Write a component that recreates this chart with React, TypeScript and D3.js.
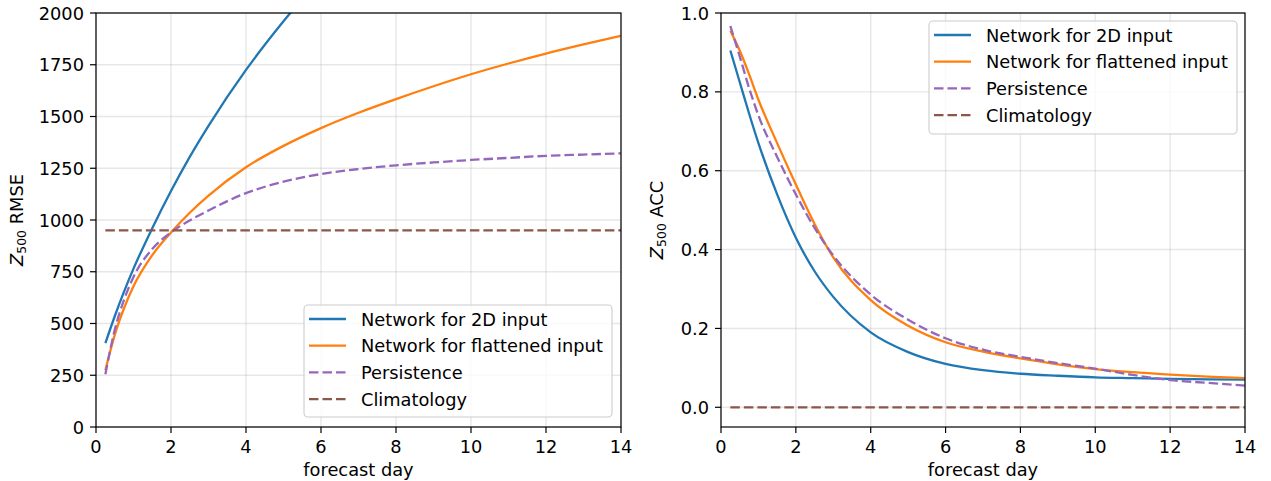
import React from 'react';
import * as d3 from 'd3';

// forecast lead times (days)
const days = [0.25, 0.5, 0.75, 1, 1.5, 2, 2.5, 3, 4, 5, 6, 7, 8, 9, 10, 11, 12, 13, 14];

// Z500 RMSE
const rmse2d = [405, 535, 655, 765, 960, 1140, 1305, 1455, 1725, 1960, 2170, 2350, 2510, 2650, 2780, 2890, 2990, 3080, 3160];
const rmseFlat = [274, 445, 575, 680, 830, 940, 1035, 1118, 1255, 1358, 1444, 1518, 1584, 1646, 1704, 1756, 1804, 1848, 1890];
const rmsePersist = [255, 470, 615, 725, 860, 940, 998, 1046, 1130, 1185, 1222, 1246, 1264, 1278, 1290, 1300, 1310, 1316, 1322];
const rmseClim = [950, 950, 950, 950, 950, 950, 950, 950, 950, 950, 950, 950, 950, 950, 950, 950, 950, 950, 950];

// Z500 ACC
const acc2d = [0.905, 0.825, 0.745, 0.67, 0.54, 0.43, 0.345, 0.28, 0.19, 0.14, 0.11, 0.094, 0.085, 0.08, 0.076, 0.074, 0.072, 0.071, 0.07];
const accFlat = [0.955, 0.905, 0.845, 0.78, 0.67, 0.565, 0.465, 0.38, 0.272, 0.207, 0.165, 0.141, 0.124, 0.109, 0.097, 0.089, 0.083, 0.078, 0.074];
const accPersist = [0.967, 0.89, 0.81, 0.74, 0.635, 0.54, 0.455, 0.385, 0.286, 0.222, 0.175, 0.146, 0.128, 0.112, 0.098, 0.082, 0.069, 0.062, 0.055];
const accClim = [0, 0, 0, 0, 0, 0, 0, 0, 0, 0, 0, 0, 0, 0, 0, 0, 0, 0, 0];

const xTicks = [0, 2, 4, 6, 8, 10, 12, 14];
const rmseTicks = [0, 250, 500, 750, 1000, 1250, 1500, 1750, 2000];
const accTicks = [0, 0.2, 0.4, 0.6, 0.8, 1.0];

const seriesNames = ['Network for 2D input', 'Network for flattened input', 'Persistence', 'Climatology'];
const colors = ['#1f77b4', '#ff7f0e', '#9467bd', '#8c564b'];
const dashes = [null, null, '9.5,4', '9.5,4'];

const FONT = 'DejaVu Sans';
const FS = 17.8;

const Panel = ({ id, left, right, top, bottom, yDomain, yTicks, yFmt, series, yLabel, legend }) => {
  const x = d3.scaleLinear().domain([0, 14]).range([left, right]);
  const y = d3.scaleLinear().domain(yDomain).range([bottom, top]);
  const line = d3.line<number>()
    .x((_, i) => x(days[i]))
    .y(d => y(d))
    .curve(d3.curveMonotoneX);

  return (
    <g>
      <defs>
        <clipPath id={id}>
          <rect x={left} y={top} width={right - left} height={bottom - top} />
        </clipPath>
      </defs>
      {/* grid */}
      {xTicks.map(t => (
        <line key={'gx' + t} x1={x(t)} x2={x(t)} y1={top} y2={bottom} stroke="#b0b0b0" strokeOpacity={0.3} strokeWidth={1.4} />
      ))}
      {yTicks.map(t => (
        <line key={'gy' + t} x1={left} x2={right} y1={y(t)} y2={y(t)} stroke="#b0b0b0" strokeOpacity={0.3} strokeWidth={1.4} />
      ))}
      {/* series */}
      <g clipPath={`url(#${id})`}>
        {series.map((s, i) => (
          <path key={i} d={line(s)} fill="none" stroke={colors[i]} strokeWidth={2.3}
            strokeDasharray={dashes[i] || undefined} />
        ))}
      </g>
      {/* spines */}
      <rect x={left} y={top} width={right - left} height={bottom - top} fill="none" stroke="#000" strokeWidth={1.2} />
      {/* x ticks */}
      {xTicks.map(t => (
        <g key={'tx' + t}>
          <line x1={x(t)} x2={x(t)} y1={bottom} y2={bottom + 6} stroke="#000" strokeWidth={1.2} />
          <text x={x(t)} y={bottom + 26} textAnchor="middle" fontFamily={FONT} fontSize={FS} fill="#000">{t}</text>
        </g>
      ))}
      {/* y ticks */}
      {yTicks.map(t => (
        <g key={'ty' + t}>
          <line x1={left - 6} x2={left} y1={y(t)} y2={y(t)} stroke="#000" strokeWidth={1.2} />
          <text x={left - 12} y={y(t) + 6.5} textAnchor="end" fontFamily={FONT} fontSize={FS} fill="#000">{yFmt(t)}</text>
        </g>
      ))}
      <text x={(left + right) / 2} y={bottom + 49} textAnchor="middle" fontFamily={FONT} fontSize={FS} fill="#000">forecast day</text>
      <text transform={`translate(${yLabel.x},${(top + bottom) / 2}) rotate(-90)`} textAnchor="middle"
        fontFamily={FONT} fontSize={FS} fill="#000">
        <tspan fontStyle="italic">Z</tspan>
        <tspan fontSize={FS * 0.7} dy={3}>500</tspan>
        <tspan dy={-3}>{' ' + yLabel.text}</tspan>
      </text>
      {/* legend */}
      <g>
        <rect x={legend.x} y={legend.y} width={legend.w} height={legend.h} rx={4}
          fill="#fff" fillOpacity={0.8} stroke="#cccccc" strokeWidth={1.1} />
        {seriesNames.map((n, i) => {
          const ry = legend.y + 14 + i * 26.7;
          return (
            <g key={n}>
              <line x1={legend.x + 5} x2={legend.x + 42} y1={ry} y2={ry} stroke={colors[i]} strokeWidth={2.3}
                strokeDasharray={dashes[i] || undefined} />
              <text x={legend.x + 57} y={ry + 6.5} fontFamily={FONT} fontSize={FS} fill="#000">{n}</text>
            </g>
          );
        })}
      </g>
    </g>
  );
};

const App = () => (
  <svg width={1271} height={481} style={{ position: 'absolute', left: 0, top: 0, background: '#fff' }}>
    <Panel id="clipL" left={96} right={621} top={13} bottom={427}
      yDomain={[0, 2000]} yTicks={rmseTicks} yFmt={d => String(d)}
      series={[rmse2d, rmseFlat, rmsePersist, rmseClim]}
      yLabel={{ x: 23, text: 'RMSE' }}
      legend={{ x: 304, y: 305, w: 308, h: 112 }} />
    <Panel id="clipR" left={721} right={1245} top={13} bottom={427}
      yDomain={[-0.05, 1.0]} yTicks={accTicks} yFmt={d => d3.format('.1f')(d)}
      series={[acc2d, accFlat, accPersist, accClim]}
      yLabel={{ x: 663, text: 'ACC' }}
      legend={{ x: 929, y: 21, w: 308, h: 113 }} />
  </svg>
);

export default App;
